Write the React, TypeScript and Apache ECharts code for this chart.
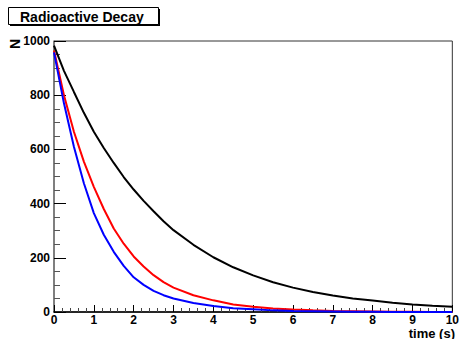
import React, { useEffect, useRef } from "react";
import * as echarts from "echarts";

const times = [0, 0.25, 0.5, 0.75, 1, 1.25, 1.5, 1.75, 2, 2.25, 2.5, 2.75, 3, 3.5, 4, 4.5, 5, 5.5, 6, 6.5, 7, 7.5, 8, 8.5, 9, 9.5, 10];
const blackN = [983, 890, 812, 735, 665, 605, 550, 498, 452, 410, 372, 335, 302, 248, 202, 165, 135, 110, 90, 74, 61, 50, 42, 34, 28, 23, 19];
const redN = [965, 800, 665, 555, 462, 380, 308, 252, 205, 168, 136, 110, 90, 62, 43, 28, 19, 13, 9, 6, 4, 3, 2, 1, 1, 0, 0];
const blueN = [958, 770, 610, 475, 365, 285, 222, 170, 128, 100, 78, 62, 50, 33, 22, 14, 10, 6, 4, 3, 2, 1, 1, 0, 0, 0, 0];
const xTicks = [0, 1, 2, 3, 4, 5, 6, 7, 8, 9, 10];
const yTicks = [0, 200, 400, 600, 800, 1000];

const FONT = "'Liberation Sans', Arial, Helvetica, sans-serif";

export default function App() {
  const ref = useRef<HTMLDivElement>(null);
  useEffect(() => {
    if (!ref.current) return;
    const chart = echarts.init(ref.current, undefined, { renderer: "svg" });
    const mk = (vals: number[]) => times.map((t, i) => [t, vals[i]]);
    chart.setOption({
      animation: false,
      backgroundColor: "#ffffff",
      grid: {
        left: 54,
        right: 7,
        top: 41,
        bottom: 27,
        show: true,
        borderColor: "#333",
        borderWidth: 1,
        backgroundColor: "transparent",
      },
      xAxis: {
        type: "value",
        min: xTicks[0],
        max: xTicks[xTicks.length - 1],
        interval: 1,
        axisLine: { show: true, onZero: false, lineStyle: { color: "#000", width: 1.5 } },
        axisTick: { show: true, inside: true, length: 7, lineStyle: { color: "#000" } },
        minorTick: { show: true, splitNumber: 5, length: 4, lineStyle: { color: "#444" } },
        splitLine: { show: false },
        axisLabel: {
          color: "#000", fontWeight: "bold", fontSize: 12, fontFamily: FONT, margin: 2,
          formatter: (v: number) => String(v),
        },
      },
      yAxis: {
        type: "value",
        min: yTicks[0],
        max: yTicks[yTicks.length - 1],
        interval: 200,
        axisLine: { show: true, lineStyle: { color: "#777", width: 1.5 } },
        axisTick: { show: true, inside: true, length: 12, lineStyle: { color: "#000" } },
        minorTick: { show: true, splitNumber: 4, length: 6, lineStyle: { color: "#555" } },
        splitLine: { show: false },
        axisLabel: {
          color: "#000", fontWeight: "bold", fontSize: 12, fontFamily: FONT, margin: 4,
          formatter: (v: number) => String(v),
        },
      },
      series: [
        { type: "line", data: mk(blackN), showSymbol: false, symbol: "none", lineStyle: { color: "#000000", width: 2 }, z: 3 },
        { type: "line", data: mk(redN), showSymbol: false, symbol: "none", lineStyle: { color: "#ff0000", width: 2 }, z: 2 },
        { type: "line", data: mk(blueN), showSymbol: false, symbol: "none", lineStyle: { color: "#0000ff", width: 2 }, z: 4 },
      ],
      graphic: [
        { type: "rect", shape: { x: 10, y: 9, width: 150, height: 17 }, style: { fill: "#000" }, z: 10 },
        { type: "rect", shape: { x: 8.5, y: 7.5, width: 150, height: 17 }, style: { fill: "#fff", stroke: "#000", lineWidth: 1 }, z: 11 },
        {
          type: "text", x: 20, y: 16.5, z: 12,
          style: { text: "Radioactive Decay", fill: "#000", font: `bold 14px ${FONT}`, textVerticalAlign: "middle", textAlign: "left" },
        },
        {
          type: "text", x: 15, y: 44, rotation: Math.PI / 2, z: 12,
          style: { text: "N", fill: "#000", font: `bold 14px ${FONT}`, textVerticalAlign: "middle", textAlign: "center" },
        },
        {
          type: "text", x: 455, y: 333, z: 12,
          style: { text: "time (s)", fill: "#000", font: `bold 13px ${FONT}`, textVerticalAlign: "middle", textAlign: "right" },
        },
      ],
    });
    return () => chart.dispose();
  }, []);
  return <div ref={ref} style={{ position: "fixed", left: 0, top: 0, width: 462, height: 339 }} />;
}
